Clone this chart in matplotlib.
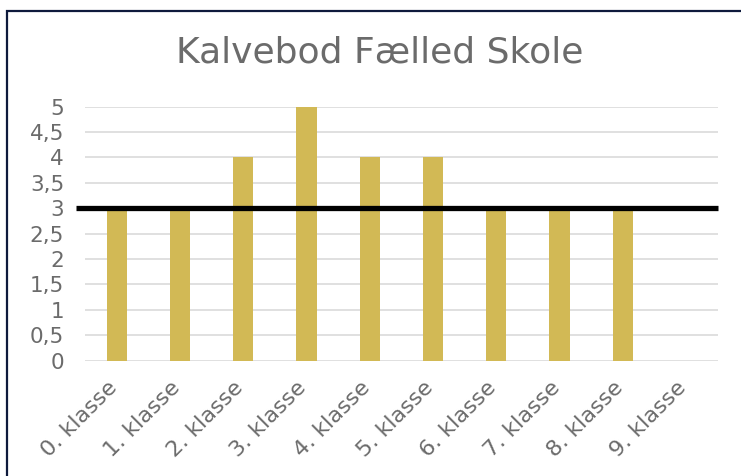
import matplotlib.pyplot as plt
import matplotlib.transforms as mtransforms
from matplotlib.patches import Rectangle
from matplotlib.ticker import FuncFormatter

# Data
classes = ["0. klasse", "1. klasse", "2. klasse", "3. klasse", "4. klasse",
           "5. klasse", "6. klasse", "7. klasse", "8. klasse", "9. klasse"]
scores = [3, 3, 4, 5, 4, 4, 3, 3, 3, 0]
target = 3
title = "Kalvebod Fælled Skole"

BAR_COLOR = "#D2B955"
GRID_COLOR = "#DDDDDD"
TEXT_COLOR = "#6B6B6B"

plt.rcParams['font.family'] = ['DejaVu Sans']

fig = plt.figure(figsize=(7.41, 4.76), dpi=100)

# outer frame (cut off at right/bottom like the screenshot)
fig.patches.append(Rectangle((7 / 741, -0.05), 1.1, 1 - 11 / 476 + 0.05,
                             transform=fig.transFigure, fill=False,
                             edgecolor="#0E1A3C", linewidth=1.6))

ax = fig.add_axes([0.1147, 0.2426, 0.8539, 0.5332])

x = range(len(classes))
ax.bar(x, scores, width=0.32, color=BAR_COLOR, zorder=2)

ax.set_xlim(-0.5, len(classes) - 0.5)
ax.set_ylim(0, 5)

# target line, slightly sticking out to the left like the original
x0, x1 = ax.get_xlim()
ax.plot([x0 - 0.14, x1], [target, target], color="black", linewidth=3.8,
        zorder=3, clip_on=False, solid_capstyle="butt")

ax.set_yticks([i * 0.5 for i in range(11)])
ax.yaxis.set_major_formatter(FuncFormatter(lambda v, p: f"{v:g}".replace(".", ",")))
ax.set_xticks(list(x))
ax.set_xticklabels(classes, rotation=45, ha="right", va="center", rotation_mode="anchor")

ax.tick_params(axis="both", length=0, colors=TEXT_COLOR)
ax.tick_params(axis="y", pad=15, labelsize=15.5)
ax.tick_params(axis="x", pad=17, labelsize=16)

# nudge rotated labels a little to the left
shift = mtransforms.ScaledTranslation(-3 / 100, 0, fig.dpi_scale_trans)
for lab in ax.get_xticklabels():
    lab.set_transform(lab.get_transform() + shift)

ax.grid(axis="y", color=GRID_COLOR, linewidth=1.3, zorder=0)
ax.set_axisbelow(True)
for s in ax.spines.values():
    s.set_visible(False)

fig.text(0.513, 0.889, title, ha="center", va="center", fontsize=26, color=TEXT_COLOR)

fig.savefig("out.png", dpi=100)
